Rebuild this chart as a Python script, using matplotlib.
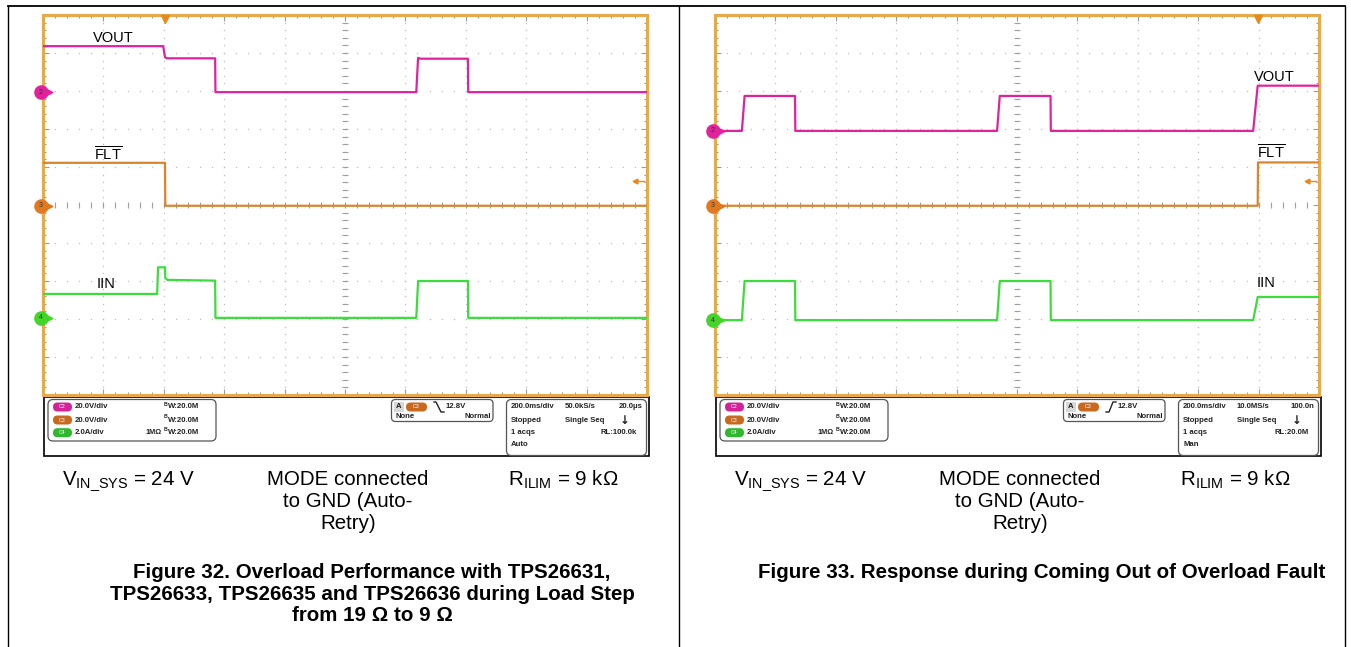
import matplotlib.pyplot as plt
from matplotlib.patches import FancyBboxPatch, Rectangle
from matplotlib.ticker import MultipleLocator

W, H = 1351, 647

# ---- data (time in ms, 200 ms/div) ----
t_span = 2000

# Figure 32: load step 19 ohm -> 9 ohm
f32_vout_t = [0, 398, 404, 410, 570, 571, 1236, 1242, 1250, 1407, 1408, 2000]
f32_vout = [24.2, 24.2, 18.4, 17.8, 17.8, 0, 0, 18.0, 17.6, 17.6, 0, 0]
f32_flt_t = [0, 404, 405, 2000]
f32_flt = [22.6, 22.6, 0, 0]
f32_iin_t = [0, 378, 381, 404, 405, 412, 570, 571, 1236, 1242, 1407, 1408, 2000]
f32_iin = [1.26, 1.26, 2.66, 2.66, 2.1, 2.0, 1.96, 0, 0, 1.94, 1.94, 0, 0]

# Figure 33: coming out of overload
f33_vout_t = [0, 89, 98, 265, 266, 934, 943, 1111, 1112, 1782, 1797, 2000]
f33_vout = [0, 0, 18.4, 18.4, 0, 0, 18.4, 18.4, 0, 0, 23.8, 23.8]
f33_flt_t = [0, 1797, 1798, 2000]
f33_flt = [0, 0, 22.8, 22.8]
f33_iin_t = [0, 89, 98, 265, 266, 934, 943, 1111, 1112, 1782, 1797, 2000]
f33_iin = [0, 0, 2.06, 2.06, 0, 0, 2.06, 2.06, 0, 0, 1.22, 1.22]

# channel volts(amps)/div and ground position in div from bottom
ch_names = ['2', '3', '4']
ch_scale = [20.0, 20.0, 2.0]
f32_pos = [7.97, 4.98, 2.03]
f33_pos = [6.95, 4.98, 1.97]
trig_level = 12.8
f32_trig_t = 404
f33_trig_t = 1798

f32_labels = [('VOUT', 166, 9.39), ('FLT', 169, 6.32), ('IIN', 179, 2.92)]
f33_labels = [('VOUT', 1784, 8.37), ('FLT', 1794, 6.37), ('IIN', 1794, 2.95)]

ch_colors = ['#e0239d', '#d9852f', '#3ddc3d']
pill_colors = ['#d4239a', '#c9681f', '#2db82d']
marker_colors = ['#e0239d', '#e07a22', '#44d42a']
border = '#e8a94c'

plt.rcParams['font.family'] = ['Liberation Sans', 'DejaVu Sans']
plt.rcParams['mathtext.fontset'] = 'custom'
plt.rcParams['mathtext.rm'] = 'Liberation Sans'
plt.rcParams['mathtext.bf'] = 'Liberation Sans:bold'


def rect(x0, y0, x1, y1):
    return [x0 / W, 1 - y1 / H, (x1 - x0) / W, (y1 - y0) / H]


fig = plt.figure(figsize=(W / 100, H / 100), dpi=100)
ov = fig.add_axes([0, 0, 1, 1])
ov.set_xlim(0, W)
ov.set_ylim(H, 0)
ov.axis('off')

# page frame
ov.plot([8, 1345], [6, 6], color='black', lw=1.3)
for x in [8, 679, 1345]:
    ov.plot([x, x], [6, H], color='black', lw=1.0)


def scope(x0, traces, pos, trig_t, labels):
    ax = fig.add_axes(rect(x0, 15, x0 + 604, 395))
    ax.set_xlim(0, t_span)
    ax.set_ylim(0, 10)
    ax.xaxis.set_major_locator(MultipleLocator(200))
    ax.xaxis.set_minor_locator(MultipleLocator(40))
    ax.yaxis.set_major_locator(MultipleLocator(1))
    ax.yaxis.set_minor_locator(MultipleLocator(0.2))
    ax.tick_params(which='both', direction='in', top=True, right=True,
                   labelbottom=False, labelleft=False, color='#9a9a9a', width=0.8)
    ax.tick_params(which='major', length=4)
    ax.tick_params(which='minor', length=2.5)
    for s in ax.spines.values():
        s.set_color(border)
        s.set_linewidth(2.2)

    # dotted graticule
    ys = [i * 0.2 for i in range(1, 50)]
    xs = [i * 40 for i in range(1, 50)]
    for gx in range(200, 2000, 200):
        ax.plot([gx] * len(ys), ys, ls='none', marker='s', ms=0.9, color='#bdbdbd', mew=0)
    for gy in range(1, 10):
        ax.plot(xs, [gy] * len(xs), ls='none', marker='s', ms=0.9, color='#bdbdbd', mew=0)
    # centre cross with ticks
    ax.plot([1000] * len(ys), ys, ls='none', marker='_', ms=5, color='#a0a0a0', mew=0.8)
    ax.plot(xs, [5] * len(xs), ls='none', marker='|', ms=5, color='#a0a0a0', mew=0.8)

    for (t, v), p, sc, c in zip(traces, pos, ch_scale, ch_colors):
        ax.plot(t, [p + val / sc for val in v], color=c, lw=1.6, zorder=4)

    # channel ground markers
    for p, c, n in zip(pos, marker_colors, ch_names):
        ax.plot([0, 20], [p, p], color=c, lw=1.3, clip_on=False, zorder=6)
        ax.plot([22], [p], '>', ms=3.5, color=c, clip_on=False, zorder=6)
        ax.plot([-8], [p], 'o', ms=9.5, color=c, clip_on=False, zorder=7)
        ax.text(-8, p, n, ha='center', va='center', fontsize=5, color='#333333',
                zorder=8, clip_on=False)

    # trigger position and level markers
    ax.plot([trig_t], [9.9], 'v', ms=6, color='#e88a1a', clip_on=False, zorder=6)
    lv = pos[1] + trig_level / ch_scale[1]
    ax.plot([1960, 1990], [lv, lv], color='#e88a1a', lw=1.0, zorder=6)
    ax.plot([1960], [lv], '<', ms=3.5, color='#e88a1a', zorder=6)

    for txt, lx, ly in labels:
        s = r'$\overline{\mathrm{FLT}}$' if txt == 'FLT' else txt
        ax.text(lx, ly, s, fontsize=10.5, va='center', ha='left', zorder=9)
    return ax


def info(dx, rate, tpos, rl, mode, rising):
    kw = dict(fontsize=5.6, fontweight='bold', va='center', color='#222222')
    ov.add_patch(Rectangle((44 + dx, 397), 605, 59, fill=False, ec='black', lw=1.2))
    ov.add_patch(FancyBboxPatch((48 + dx, 399.5), 168, 41.5, boxstyle='round,pad=0,rounding_size=5',
                                fill=False, ec='#555555', lw=0.9))
    rows = [407, 420, 432.7]
    vdiv = ['20.0V/div', '20.0V/div', '2.0A/div']
    for y, pc, lab, vd in zip(rows, pill_colors, ['C2', 'C3', 'C4'], vdiv):
        ov.add_patch(FancyBboxPatch((53 + dx, y - 4.5), 19, 9, boxstyle='round,pad=0,rounding_size=4.5',
                                    fc=pc, ec='none'))
        ov.text(62.5 + dx, y, lab, fontsize=3.8, color='white', ha='center', va='center')
        ov.text(75 + dx, y, vd, **kw)
        ov.text(164 + dx, y - 3, 'B', fontsize=3.8, fontweight='bold', va='center', color='#222222')
        ov.text(167.5 + dx, y, 'W:20.0M', **kw)
    ov.text(145 + dx, rows[2], '1M\u03a9', fontsize=5.3, fontweight='bold', va='center', color='#222222')

    # trigger box
    ov.add_patch(FancyBboxPatch((391.5 + dx, 399.5), 101.5, 22, boxstyle='round,pad=0,rounding_size=4',
                                fill=False, ec='#555555', lw=0.9))
    ov.add_patch(Rectangle((394 + dx, 402), 9.5, 10, fc='#d8d8d8', ec='none'))
    ov.text(398.8 + dx, 407, 'A', ha='center', **kw)
    ov.add_patch(FancyBboxPatch((406 + dx, 402.5), 21, 9, boxstyle='round,pad=0,rounding_size=4.5',
                                fc=pill_colors[1], ec='none'))
    ov.text(416.5 + dx, 407, 'C3', fontsize=3.8, color='white', ha='center', va='center')
    if rising:
        ov.plot([434 + dx, 437 + dx, 441 + dx, 444 + dx], [412, 412, 402, 402], color='#222222', lw=1.0)
    else:
        ov.plot([434 + dx, 436 + dx, 441 + dx, 444 + dx], [402, 402, 412, 412], color='#222222', lw=1.0)
    ov.text(446 + dx, 407, '12.8V', **kw)
    ov.text(395 + dx, 417, 'None', **kw)
    ov.text(491 + dx, 417, 'Normal', ha='right', **kw)

    # acquisition box
    ov.add_patch(FancyBboxPatch((506.5 + dx, 399.5), 140, 56, boxstyle='round,pad=0,rounding_size=5',
                                fill=False, ec='#555555', lw=0.9))
    ov.text(511 + dx, 407, '200.0ms/div', **kw)
    ov.text(565 + dx, 407, rate, **kw)
    ov.text(642.5 + dx, 407, tpos, ha='right', **kw)
    ov.text(511 + dx, 420, 'Stopped', **kw)
    ov.text(565 + dx, 420, 'Single Seq', **kw)
    ov.text(625 + dx, 421, '\u2193', fontsize=8.5, fontweight='bold', ha='center', va='center',
            family=['DejaVu Sans'], color='#222222')
    ov.text(511 + dx, 432.7, '1 acqs', **kw)
    ov.text(636.5 + dx, 432.7, rl, ha='right', **kw)
    ov.text(511 + dx, 445, mode, **kw)


def notes(dx, cx, caption):
    kw = dict(fontsize=14.8, va='baseline', color='black')
    ov.text(62 + dx, 485, r'V$_{\mathrm{IN\_SYS}}$ = 24 V', ha='left', **kw)
    ov.text(348 + dx, 485, 'MODE connected', ha='center', **kw)
    ov.text(348 + dx, 507, 'to GND (Auto-', ha='center', **kw)
    ov.text(348 + dx, 529, 'Retry)', ha='center', **kw)
    ov.text(508 + dx, 485, 'R$_{\\mathrm{ILIM}}$ = 9 k\u03a9', ha='left', **kw)
    for i, line in enumerate(caption):
        ov.text(cx, 578 + 21.5 * i, line, ha='center', fontweight='bold', **kw)


scope(43, [(f32_vout_t, f32_vout), (f32_flt_t, f32_flt), (f32_iin_t, f32_iin)],
      f32_pos, f32_trig_t, f32_labels)
scope(715, [(f33_vout_t, f33_vout), (f33_flt_t, f33_flt), (f33_iin_t, f33_iin)],
      f33_pos, f33_trig_t, f33_labels)

info(0, '50.0kS/s', '20.0\u03bcs', 'RL:100.0k', 'Auto', False)
info(672, '10.0MS/s', '100.0n', 'RL:20.0M', 'Man', True)

notes(0, 372, ['Figure 32. Overload Performance with TPS26631,',
               'TPS26633, TPS26635 and TPS26636 during Load Step',
               'from 19 \u03a9 to 9 \u03a9'])
notes(672, 1042, ['Figure 33. Response during Coming Out of Overload Fault'])

fig.savefig('out.png', dpi=100)
